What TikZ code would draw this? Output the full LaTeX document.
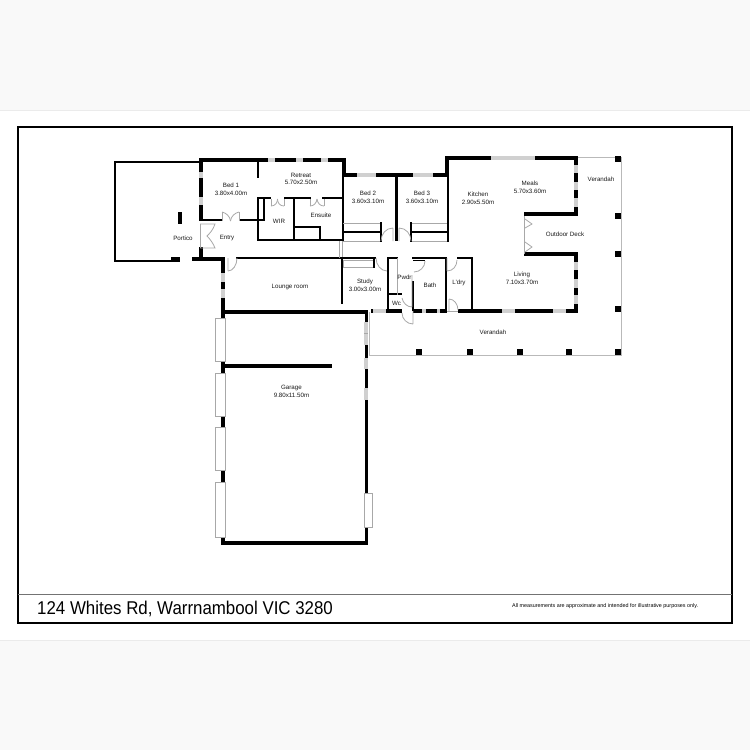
\documentclass[tikz,border=0pt]{standalone}
\usepackage{graphicx}
\usepackage{fontspec}
\setmainfont{Liberation Sans}
\definecolor{glass}{HTML}{D0D0D0}
\definecolor{frameg}{HTML}{A8A8A8}
\tikzset{
  wall/.style={line width=4pt,black,line cap=rect},
  mid/.style={line width=3pt,black,line cap=butt},
  thin/.style={line width=2pt,black,line cap=rect},
  port/.style={line width=2pt,black,line cap=rect},
  pane/.style={fill=glass,draw=none},
  doorl/.style={line width=.8pt,frameg},
  veran/.style={line width=1pt,frameg!80!white},
  garwin/.style={line width=.8pt,frameg,fill=white},
  post/.style={fill=black,draw=none},
  lab/.style={font=\fontsize{6.2pt}{7pt}\selectfont,text=black!90,inner sep=0pt},
}
\newcommand{\pane}[4]{\fill[pane] (#1,#2) rectangle (#3,#4);}
\newcommand{\postbox}[2]{\fill[post] (#1-2.6,#2-2.6) rectangle (#1+2.6,#2+2.6);}
\begin{document}
\begin{tikzpicture}[x=1pt,y=-1pt]
\useasboundingbox (0,0) rectangle (750,750);
\fill[black!2.5] (0,0) rectangle (750,750);
\fill[white] (0,110) rectangle (750,640);
\draw[line width=.6pt,black!8] (0,110) -- (750,110) (0,640) -- (750,640);
% sheet frame
\draw[line width=1.8pt,black] (18,127) rectangle (732,623);
\draw[line width=.8pt,black!55] (18,594) -- (732,594);
% verandah outline
\draw[veran] (578,157) -- (621,157) -- (621,355) -- (369,355) -- (369,312);
\foreach \p/\q in {618/159,618/216,618/254,618/309,618/352,569/352,520/352,470/352,419/352}{\postbox{\p}{\q}}
% portico
\draw[port] (201,162) -- (114.5,162) -- (114.5,261) -- (171,261);
\fill[black] (171,257) rectangle (180,261.5);
\fill[black] (178,212) rectangle (182,224);
% upper wing exterior
\draw[wall] (201,160) -- (344,160) -- (344,175) -- (447,175) -- (447,158) -- (576,158) -- (576,214) -- (526,214);
\draw[wall] (526,254) -- (576,254) -- (576,310);
\draw[wall] (201,160) -- (201,219);
\draw[wall] (201,249) -- (201,259);
\draw[wall] (194,259) -- (223,259) -- (223,312);
% top windows
\pane{268}{158}{275}{162}\pane{296}{158}{303}{162}\pane{321}{158}{328}{162}
\pane{357}{173}{376}{177}\pane{413}{173}{433}{177}
\pane{491}{156}{535}{160}
\pane{199}{172}{203}{178}\pane{199}{197}{203}{205}
\pane{574}{165}{578}{173}\pane{574}{182}{578}{190}\pane{574}{198}{578}{207}
\pane{574}{262}{578}{270}\pane{574}{279}{578}{288}\pane{574}{295}{578}{304}
\pane{221}{273}{225}{282}\pane{221}{289}{225}{298}
% south wall
\fill[black] (371,309) rectangle (373,313);
\fill[black] (386,309) rectangle (402,313);
\fill[black] (413,309) rectangle (447,313);
\fill[black] (458,309) rectangle (578,313);
\pane{373}{309}{386}{313}\pane{422}{309}{426}{313}\pane{437}{309}{440}{313}
\pane{502}{309}{515}{313}\pane{553}{309}{566}{313}
% inner walls, bedroom wing
\draw[thin] (201,220) -- (222,220);
\draw[thin] (240,220) -- (264,220) -- (264,198);
\draw[thin] (258,162) -- (258,177);
\draw[thin] (258,198) -- (270,198);
\draw[thin] (285,198) -- (310,198);
\draw[thin] (323,198) -- (342,198);
\draw[thin] (258,198) -- (258,240) -- (342,240);
\draw[thin] (294,198) -- (294,240);
\draw[thin] (294,226.5) -- (320,226.5) -- (320,240);
\draw[thin] (343,175) -- (343,241);
% bed 2 and 3
\draw[doorl] (343,223) -- (381,223) (343,241) -- (381,241) (411,223) -- (447,223) (411,241) -- (447,241);
\draw[thin] (343,232) -- (381,232) (381,223) -- (381,241);
\draw[thin] (411,232) -- (447,232) (411,223) -- (411,241);
\draw[mid] (396,175) -- (396,241);
\draw[thin] (448,175) -- (448,241);
\draw[doorl] (393,228) -- (393,241) (381,241) .. controls (381,234) and (386,228) .. (393,228);
\draw[doorl] (399,228) -- (399,241) (411,241) .. controls (411,234) and (406,228) .. (399,228);
% lounge
\draw[thin] (237,258) -- (342,258);
\draw[thin] (342,258) -- (342,303);
\draw[doorl] (228,258) -- (228,271) (228,271) .. controls (233,271) and (237,265) .. (237,258);
\draw[doorl] (339,241) -- (339,258) (342,241) -- (342,258);
% garage
\draw[line width=4.5pt,black] (221,312) -- (368,312);
\draw[line width=4pt,black] (221,543) -- (368,543);
\draw[line width=4pt,black] (223,312) -- (223,545);
\draw[line width=3pt,black] (366,312) -- (366,545);
\draw[line width=3.5pt,black] (225,366) -- (332,366);
\foreach \a/\b in {318/361,373/416,427/470,482/537}{\draw[garwin] (215.5,\a) rectangle (225,\b);}
\draw[garwin] (364,493) rectangle (372,527);
\pane{364}{322}{368}{345}\pane{364}{358}{368}{369}\pane{364}{388}{368}{400}
\draw[line width=.5pt,frameg] (364,333) -- (368,333);
% study
\draw[doorl] (343,260) rectangle (373,267);
\draw[thin] (343,258) -- (375,258);
\draw[line width=2pt] (374,258) -- (374,268);
\draw[doorl] (376,258) .. controls (376,265) and (381,271) .. (387,271);
% powder and wc
\draw[thin] (388,258) -- (388,311);
\draw[thin] (388,258) -- (397,258);
\draw[thin] (388,294) -- (401,294);
\draw[thin] (413,282) -- (413,310);
\draw[thin] (413,258) -- (446,258);
\draw[thin] (446,258) -- (446,311);
\draw[doorl] (397,258) -- (397,295);
\draw[doorl] (412,275) -- (412,307) (402,298) .. controls (403,303) and (407,307) .. (412,307);
\draw[doorl] (413,311) -- (413,324) (413,324) .. controls (407,324) and (402,319) .. (402,313);
\draw[line width=1pt,black] (413,260) -- (425,260);
\draw[doorl] (425,261) .. controls (425,267) and (420,272) .. (414,272);
% laundry
\draw[thin] (458,258) -- (472,258) -- (472,311);
\draw[doorl] (447,258) -- (447,271) (447,271) .. controls (453,271) and (457,266) .. (457,260);
\draw[doorl] (449,299) -- (449,311) (449,299) .. controls (454,299) and (458,304) .. (458,310);
\draw[doorl] (447,311) -- (458,311);
% deck doors
\draw[doorl] (524,216) -- (524,254);
\draw[doorl] (525,219) -- (532,224) -- (525,228);
\draw[doorl] (525,242) -- (532,247) -- (525,252);
% entry doors
\draw[doorl] (200,224) -- (200,248);
\draw[doorl] (200,224) -- (215,224) .. controls (213,230) and (210,233) .. (207,236) .. controls (210,239) and (213,243) .. (215,248) -- (200,248);
% bed 1 double door
\draw[doorl] (222,212) -- (222,221) (239,212) -- (239,221);
\draw[doorl] (222,212) .. controls (226,213) and (230,216) .. (230.5,221);
\draw[doorl] (239,212) .. controls (235,213) and (231,216) .. (230.5,221);
% wir and ensuite doors
\foreach \l/\r in {271/284,310/324}{
  \draw[doorl] (\l,199) -- (\l,206) (\r,199) -- (\r,206);
  \draw[doorl] (\l,206) .. controls (\l+4,206) and (\l+6.5,203) .. ({(\l+\r)/2},199);
  \draw[doorl] (\r,206) .. controls (\r-4,206) and (\r-6.5,203) .. ({(\l+\r)/2},199);
}
% labels
\node[lab,align=center] (bedone) at (231,189.5) {Bed 1\\[.6pt]3.80x4.00m};
\node[lab,align=center] (retreat) at (301,179) {Retreat\\[.6pt]5.70x2.50m};
\node[lab] (wir) at (279,221) {WIR};
\node[lab] (ensuite) at (321,215.5) {Ensuite};
\node[lab] (entry) at (227,238.5) {Entry};
\node[lab] (portico) at (183,238.5) {Portico};
\node[lab] (lounge) at (290,287) {Lounge room};
\node[lab,align=center] (bedtwo) at (368,197) {Bed 2\\[.6pt]3.60x3.10m};
\node[lab,align=center] (bedthree) at (422,197) {Bed 3\\[.6pt]3.60x3.10m};
\node[lab,align=center] (kitchen) at (478,198) {Kitchen\\[.6pt]2.90x5.50m};
\node[lab,align=center] (meals) at (530,187) {Meals\\[.6pt]5.70x3.60m};
\node[lab] (verone) at (601,179) {Verandah};
\node[lab] (deck) at (565,234) {Outdoor Deck};
\node[lab,align=center] (living) at (522,278.5) {Living\\[.6pt]7.10x3.70m};
\node[lab,align=center] (study) at (365,285.5) {Study\\[.6pt]3.00x3.00m};
\node[lab] (pwdr) at (404.5,277) {Pwdr};
\node[lab] (wc) at (396.5,303) {Wc};
\node[lab] (bath) at (430,285.5) {Bath};
\node[lab] (ldry) at (459,283) {L'dry};
\node[lab] (vertwo) at (493,332) {Verandah};
\node[lab,align=center] (garage) at (291.5,391.5) {Garage\\[.6pt]9.80x11.50m};
\node[anchor=west,inner sep=0pt,font=\fontsize{18.5pt}{20pt}\selectfont] (title) at (37,608.5) {\scalebox{.912}[1]{124 Whites Rd, Warrnambool VIC 3280}};
\node[anchor=west,inner sep=0pt,font=\fontsize{5.4pt}{6pt}\selectfont] (note) at (512,606.5) {All measurements are approximate and intended for illustrative purposes only.};
\end{tikzpicture}
\end{document}
